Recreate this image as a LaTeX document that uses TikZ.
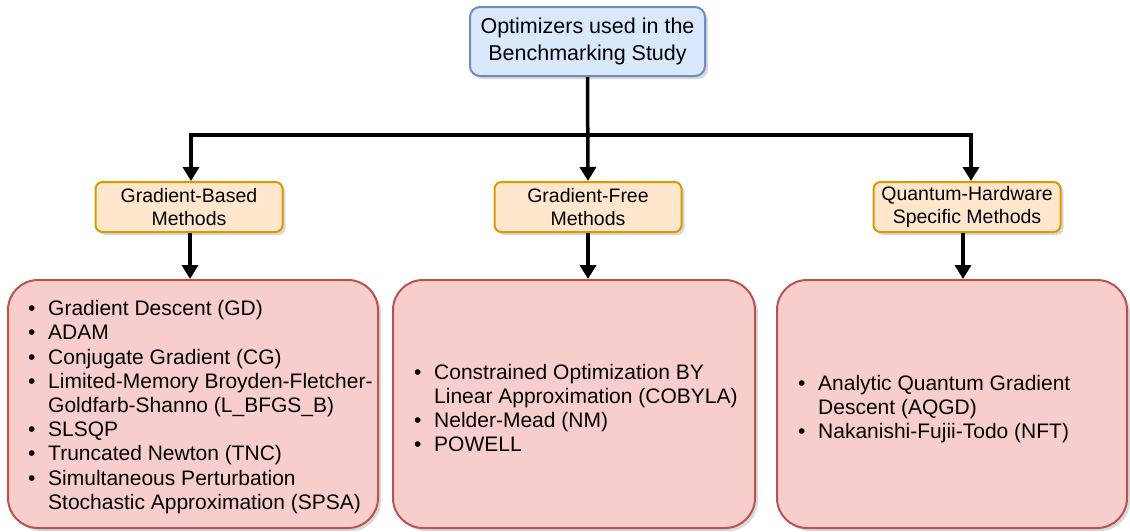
\documentclass[tikz,border=0pt]{standalone}
\usepackage{fontspec}
\setmainfont{Liberation Sans}
\usetikzlibrary{arrows.meta,shadows}

\definecolor{rootfill}{HTML}{DAE8FC}
\definecolor{rootline}{HTML}{6C8EBF}
\definecolor{catfill}{HTML}{FFE6CC}
\definecolor{catline}{HTML}{D79B00}
\definecolor{listfill}{HTML}{F8CECC}
\definecolor{listline}{HTML}{B85450}

% bullet item and its continuation line
\newcommand{\bitem}[1]{\makebox[20pt][l]{\textbullet}#1}
\newcommand{\bcont}[1]{\hspace*{20pt}#1}

\tikzset{
  soft shadow/.style={drop shadow={shadow xshift=3pt, shadow yshift=-3pt, opacity=0.22, fill=black!70}},
  rootbox/.style={draw=rootline, fill=rootfill, line width=2pt, rounded corners=10pt,
    minimum width=235pt, minimum height=69pt, align=center, inner sep=0pt,
    font=\fontsize{21.5}{26.5}\selectfont, soft shadow},
  catbox/.style={draw=catline, fill=catfill, line width=2pt, rounded corners=7pt,
    minimum width=187pt, minimum height=50pt, align=center, inner sep=0pt,
    font=\fontsize{19.5}{23}\selectfont, soft shadow},
  listbox/.style={draw=listline, fill=listfill, line width=2pt, rounded corners=30pt,
    minimum height=248pt, inner sep=0pt, soft shadow},
  listtext/.style={anchor=west, align=left, inner sep=0pt,
    font=\fontsize{21}{24.2}\selectfont},
  arr/.style={line width=3.5pt, -{Triangle[length=14pt,width=16pt]}},
}

\begin{document}
\begin{tikzpicture}[x=1pt,y=1pt]
\useasboundingbox (0,0) rectangle (1130,-531);

% root
\node[rootbox] (root) at (587.5,-41.5) {Optimizers used in the\\Benchmarking Study};

% categories
\node[catbox] (gb) at (189,-207) {Gradient-Based\\Methods};
\node[catbox] (gf) at (588,-207) {Gradient-Free\\Methods};
\node[catbox] (qh) at (967,-207) {Quantum-Hardware\\Specific Methods};

% optimizer lists
\node[listbox, minimum width=370pt] (lgb) at (193,-404) {};
\node[listbox, minimum width=362pt] (lgf) at (574,-404) {};
\node[listbox, minimum width=350pt] (lqh) at (952,-404) {};

\node[listtext] (tgb) at ([xshift=21pt,yshift=-3pt]lgb.west) {%
\bitem{Gradient Descent (GD)}\\
\bitem{ADAM}\\
\bitem{Conjugate Gradient (CG)}\\
\bitem{Limited-Memory Broyden-Fletcher-}\\
\bcont{Goldfarb-Shanno (L\_BFGS\_B)}\\
\bitem{SLSQP}\\
\bitem{Truncated Newton (TNC)}\\
\bitem{Simultaneous Perturbation}\\
\bcont{Stochastic Approximation (SPSA)}};

\node[listtext] (tgf) at ([xshift=22pt,yshift=-4pt]lgf.west) {%
\bitem{Constrained Optimization BY}\\
\bcont{Linear Approximation (COBYLA)}\\
\bitem{Nelder-Mead (NM)}\\
\bitem{POWELL}};

\node[listtext] (tqh) at ([xshift=22pt,yshift=-5pt]lqh.west) {%
\bitem{Analytic Quantum Gradient}\\
\bcont{Descent (AQGD)}\\
\bitem{Nakanishi-Fujii-Todo (NFT)}};

% connectors
\draw[arr] (root.south) -- ++(0,-58) -| ([xshift=2pt]gb.north);
\draw[arr] (root.south) -- (gf.north);
\draw[arr] (root.south) -- ++(0,-58) -| ([xshift=4pt]qh.north);

\draw[arr] ([xshift=1pt]gb.south) -- ([xshift=1pt]gb.south |- lgb.north);
\draw[arr] (gf.south) -- (gf.south |- lgf.north);
\draw[arr] ([xshift=-4pt]qh.south) -- ([xshift=-4pt]qh.south |- lqh.north);
\end{tikzpicture}
\end{document}
